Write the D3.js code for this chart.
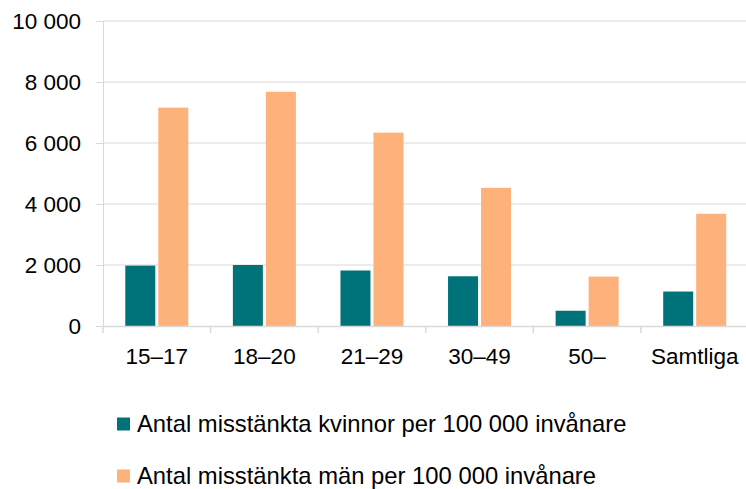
<!DOCTYPE html>
<html><head><meta charset="utf-8">
<script src="https://cdn.jsdelivr.net/npm/d3@7"></script>
<style>body{margin:0;background:#fff}svg{display:block}text{font-family:"Liberation Sans",Arial,sans-serif;fill:#000}</style>
</head><body>
<svg id="c" width="746" height="489"></svg>
<script>
const categories = ["15–17","18–20","21–29","30–49","50–","Samtliga"];
const kvinnor = [1980, 2000, 1820, 1630, 500, 1130];
const man = [7160, 7680, 6340, 4530, 1620, 3680];
const yTicks = [0, 2000, 4000, 6000, 8000, 10000];
const seriesNames = ["Antal misstänkta kvinnor per 100 000 invånare","Antal misstänkta män per 100 000 invånare"];
const colors = ["#00737a", "#fdb27c"];

const svg = d3.select("#c");
const mLeft = 103, mRight = 748.5, mTop = 21, mBottom = 326;
const x = d3.scaleBand().domain(categories).range([mLeft, mRight]).paddingInner(0).paddingOuter(0);
const y = d3.scaleLinear().domain([0, 10000]).range([mBottom, mTop]);
const fmt = v => d3.format(",")(v).replace(/,/g, " ");

// gridlines
svg.append("g").selectAll("line").data(yTicks.slice(1)).join("line")
  .attr("x1", mLeft).attr("x2", mRight).attr("y1", d => y(d)).attr("y2", d => y(d))
  .attr("stroke", "#d9d9d9").attr("stroke-width", 1);

// y axis
const ya = svg.append("g").attr("transform", `translate(${mLeft},0)`)
  .call(d3.axisLeft(y).tickValues(yTicks).tickFormat(fmt).tickSize(7).tickPadding(15));
ya.select(".domain").attr("stroke", "#d9d9d9");
ya.selectAll(".tick line").attr("stroke", "#d9d9d9");
ya.selectAll("text").style("font-size", "22.5px").attr("fill", "#000");

// bars
const bw = 30, gap = 3;
const groupW = 2 * bw + gap;
const series = [kvinnor, man];
series.forEach((vals, si) => {
  svg.append("g").selectAll("rect").data(vals).join("rect")
    .attr("x", (d, i) => x(categories[i]) + (x.bandwidth() - groupW) / 2 + si * (bw + gap))
    .attr("width", bw)
    .attr("y", d => y(d)).attr("height", d => y(0) - y(d))
    .attr("fill", colors[si]);
});

// x axis
const xa = svg.append("g").attr("transform", `translate(0,${mBottom})`)
  .call(d3.axisBottom(x).tickSize(0).tickPadding(0).tickFormat(""));
xa.select(".domain").attr("stroke", "#d9d9d9").attr("stroke-width", 1.5);
xa.selectAll(".tick").remove();
const edges = categories.map(c => x(c)).concat([mRight]);
svg.append("g").selectAll("line").data(edges).join("line")
  .attr("x1", d => d).attr("x2", d => d).attr("y1", mBottom).attr("y2", mBottom + 7)
  .attr("stroke", "#d9d9d9").attr("stroke-width", 1.5);
svg.append("g").selectAll("text").data(categories).join("text")
  .attr("x", d => x(d) + x.bandwidth() / 2).attr("y", 364)
  .attr("text-anchor", "middle").style("font-size", "22.5px").text(d => d);

// legend
const lg = svg.append("g");
seriesNames.forEach((n, i) => {
  const yy = 431.5 + i * 52;
  lg.append("rect").attr("x", 117).attr("y", yy - 14).attr("width", 13).attr("height", 13).attr("fill", colors[i]);
  lg.append("text").attr("x", 137).attr("y", yy).style("font-size", "23.8px").text(n);
});
</script>
</body></html>
